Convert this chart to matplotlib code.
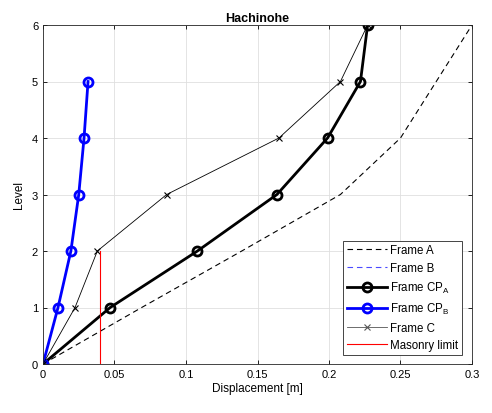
import matplotlib
matplotlib.use('Agg')
import matplotlib.pyplot as plt
import numpy as np

plt.rcParams['font.family'] = ['Liberation Sans', 'DejaVu Sans']
plt.rcParams['mathtext.fontset'] = 'custom'
plt.rcParams['mathtext.rm'] = 'Liberation Sans'
plt.rcParams['mathtext.it'] = 'Liberation Sans'

levels = [0, 1, 2, 3, 4, 5, 6]
levels_b = [0, 1, 2, 3, 4, 5]

frame_a = [0, 0.069, 0.139, 0.208, 0.25, 0.275, 0.3]
frame_b = [0, 0.0105, 0.0195, 0.025, 0.0287, 0.0315]
frame_cp_a = [0, 0.047, 0.108, 0.1636, 0.199, 0.222, 0.227]
frame_cp_b = [0, 0.0105, 0.0195, 0.025, 0.0287, 0.0315]
frame_c = [0, 0.0224, 0.038, 0.0865, 0.165, 0.208, 0.227]
masonry_x = [0.0399, 0.0399]
masonry_y = [0, 2]

fig = plt.figure(figsize=(4.92, 4.14), dpi=100)
ax = fig.add_axes([43/492, 49/414, 429/492, 339/414])

dash = (0, (5, 3.5))
ax.plot(frame_a, levels, color='k', ls=dash, lw=0.8, label='Frame A')
ax.plot(frame_b, levels_b, color='#4a4aff', ls=dash, lw=0.8, label='Frame B')
ax.plot(frame_cp_a, levels, 'k-o', lw=2, ms=6.5, mfc='none', mew=2, label='Frame CP$_\\mathrm{A}$')
ax.plot(frame_cp_b, levels_b, '-o', color='blue', lw=2, ms=6.5, mfc='none', mew=2, label='Frame CP$_\\mathrm{B}$')
ax.plot(frame_c, levels, 'k-x', lw=0.6, ms=5, mew=0.8, label='Frame C')
ax.plot(masonry_x, masonry_y, 'r-', lw=0.8, label='Masonry limit')

ax.set_xlim(0, 0.3)
ax.set_ylim(0, 6)
ax.set_xticks(np.arange(0, 0.31, 0.05))
ax.set_xticklabels(['0', '0.05', '0.1', '0.15', '0.2', '0.25', '0.3'])
ax.set_yticks(range(7))
ax.grid(True, color='#dfdfdf', lw=0.6)
ax.set_axisbelow(True)
ax.tick_params(direction='in', top=True, right=True, labelsize=8, length=3, width=0.6)
for s in ax.spines.values():
    s.set_linewidth(0.6)
    s.set_color('#262626')
ax.set_xlabel('Displacement [m]', fontsize=8.5, labelpad=2)
ax.set_ylabel('Level', fontsize=8.5, labelpad=5)
ax.set_title('Hachinohe', fontsize=9, fontweight='bold', pad=3)

leg = ax.legend(loc='lower right', fontsize=8.3, fancybox=False, framealpha=1,
                edgecolor='#262626', handlelength=3.5, borderpad=0.3,
                labelspacing=0.5, handletextpad=0.3, bbox_to_anchor=(0.99, 0.01))
leg.get_frame().set_linewidth(0.6)
# the Frame C handle is grey in the original legend
leg.get_lines()[4].set_color('#555555')

fig.savefig('out.png', dpi=100)
